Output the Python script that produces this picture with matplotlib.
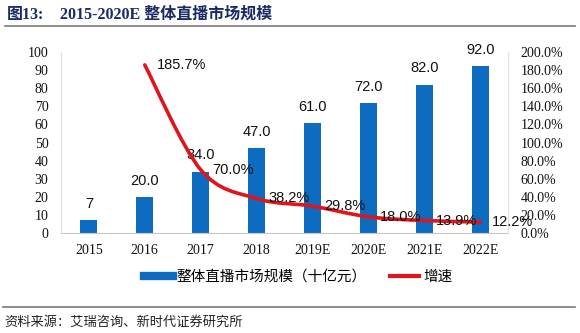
#!/usr/bin/env python3
from matplotlib import pyplot as plt
from matplotlib.path import Path
from matplotlib.patches import PathPatch
from matplotlib.lines import Line2D
from matplotlib.ticker import FuncFormatter
import numpy as np

years = ['2015', '2016', '2017', '2018', '2019E', '2020E', '2021E', '2022E']
market = [7, 20.0, 34.0, 47.0, 61.0, 72.0, 82.0, 92.0]
market_labels = ['7', '20.0', '34.0', '47.0', '61.0', '72.0', '82.0', '92.0']
growth = [185.7, 70.0, 38.2, 29.8, 18.0, 13.9, 12.2]  # from 2016 on

bar_color = '#0d6cbf'
line_color = '#e0141c'
serif = ['Liberation Serif', 'DejaVu Serif']
cjk = ['Noto Sans CJK SC', 'DejaVu Sans']

fig = plt.figure(figsize=(5.8, 3.33), dpi=100)
ax = fig.add_axes([0.105, 0.300, 0.771, 0.544])
ax2 = ax.twinx()

x = np.arange(len(years))
ax.bar(x, market, width=0.3, color=bar_color, zorder=2)
for xi, v, lab in zip(x, market, market_labels):
    ax.text(xi, v + 5, lab, ha='center', va='bottom', fontsize=10.5,
            family=['Liberation Sans'], color='#111111')

ax.set_xlim(-0.5, len(years) - 0.5)
ax.set_ylim(0, 100)
ax.set_yticks(range(0, 101, 10))
ax.set_xticks(x)
ax.set_xticklabels(years)
ax2.set_ylim(0, 200)
ax2.set_yticks(range(0, 201, 20))
ax2.yaxis.set_major_formatter(FuncFormatter(lambda v, p: '%.1f%%' % v))

for a in (ax, ax2):
    for s in a.spines.values():
        s.set_visible(False)
    a.tick_params(labelsize=10, length=0, pad=4)
    for t in a.get_xticklabels() + a.get_yticklabels():
        t.set_family(serif)
        t.set_color('#111111')
ax.spines['bottom'].set_visible(True)
ax.spines['bottom'].set_color('#c8c8c8')
ax.spines['left'].set_visible(True)
ax.spines['left'].set_color('#e0e0e0')
ax2.spines['right'].set_visible(True)
ax2.spines['right'].set_color('#e0e0e0')
ax.tick_params(axis='x', pad=8)
ax2.tick_params(axis='y', pad=9)
ax.tick_params(axis='y', pad=9)

# smoothed growth line (Catmull-Rom style bezier through the data points)
gx = x[1:].astype(float)
gy = np.array(growth)
verts = [(gx[0], gy[0])]
codes = [Path.MOVETO]
n = len(gx)
for i in range(n - 1):
    p0 = (gx[max(i - 1, 0)], gy[max(i - 1, 0)])
    p1 = (gx[i], gy[i])
    p2 = (gx[i + 1], gy[i + 1])
    p3 = (gx[min(i + 2, n - 1)], gy[min(i + 2, n - 1)])
    c1 = (p1[0] + (p2[0] - p0[0]) / 6, p1[1] + (p2[1] - p0[1]) / 6)
    c2 = (p2[0] - (p3[0] - p1[0]) / 6, p2[1] - (p3[1] - p1[1]) / 6)
    verts += [c1, c2, p2]
    codes += [Path.CURVE4] * 3
ax2.add_patch(PathPatch(Path(verts, codes), fill=False, edgecolor=line_color,
                        lw=2.6, zorder=3, capstyle='round'))
for xi, v in zip(gx, gy):
    ax2.text(xi + 0.21, v, '%.1f%%' % v, ha='left', va='center', fontsize=10.5,
             family=['Liberation Sans'], color='#111111', zorder=4)

handles = [Line2D([], [], color=bar_color, lw=6),
           Line2D([], [], color=line_color, lw=3)]
fig.legend(handles, ['整体直播市场规模（十亿元）', '增速'], loc='center',
           bbox_to_anchor=(0.514, 0.168), ncol=2, frameon=False, handlelength=2.0,
           columnspacing=1.6, handletextpad=0.25,
           prop={'family': cjk, 'size': 10.5})

fig.text(0.012, 0.955, '图13:', fontsize=11.5, fontweight='bold', color='#1b2a66',
         family=['Liberation Serif', 'Noto Sans CJK SC'], va='center')
fig.text(0.103, 0.955, '2015-2020E 整体直播市场规模', fontsize=11.5, fontweight='bold',
         color='#1b2a66', family=['Liberation Serif', 'Noto Sans CJK SC'], va='center')
fig.add_artist(Line2D([0.008, 0.992], [0.922, 0.922], color='#7a7a7a', lw=1.2))
fig.add_artist(Line2D([0.005, 0.992], [0.078, 0.078], color='#7a7a7a', lw=1.2))
fig.text(0.008, 0.033, '资料来源：艾瑞咨询、新时代证券研究所', fontsize=9.5,
         family=cjk, color='#222222', va='center')

plt.savefig('out.png', dpi=100)
